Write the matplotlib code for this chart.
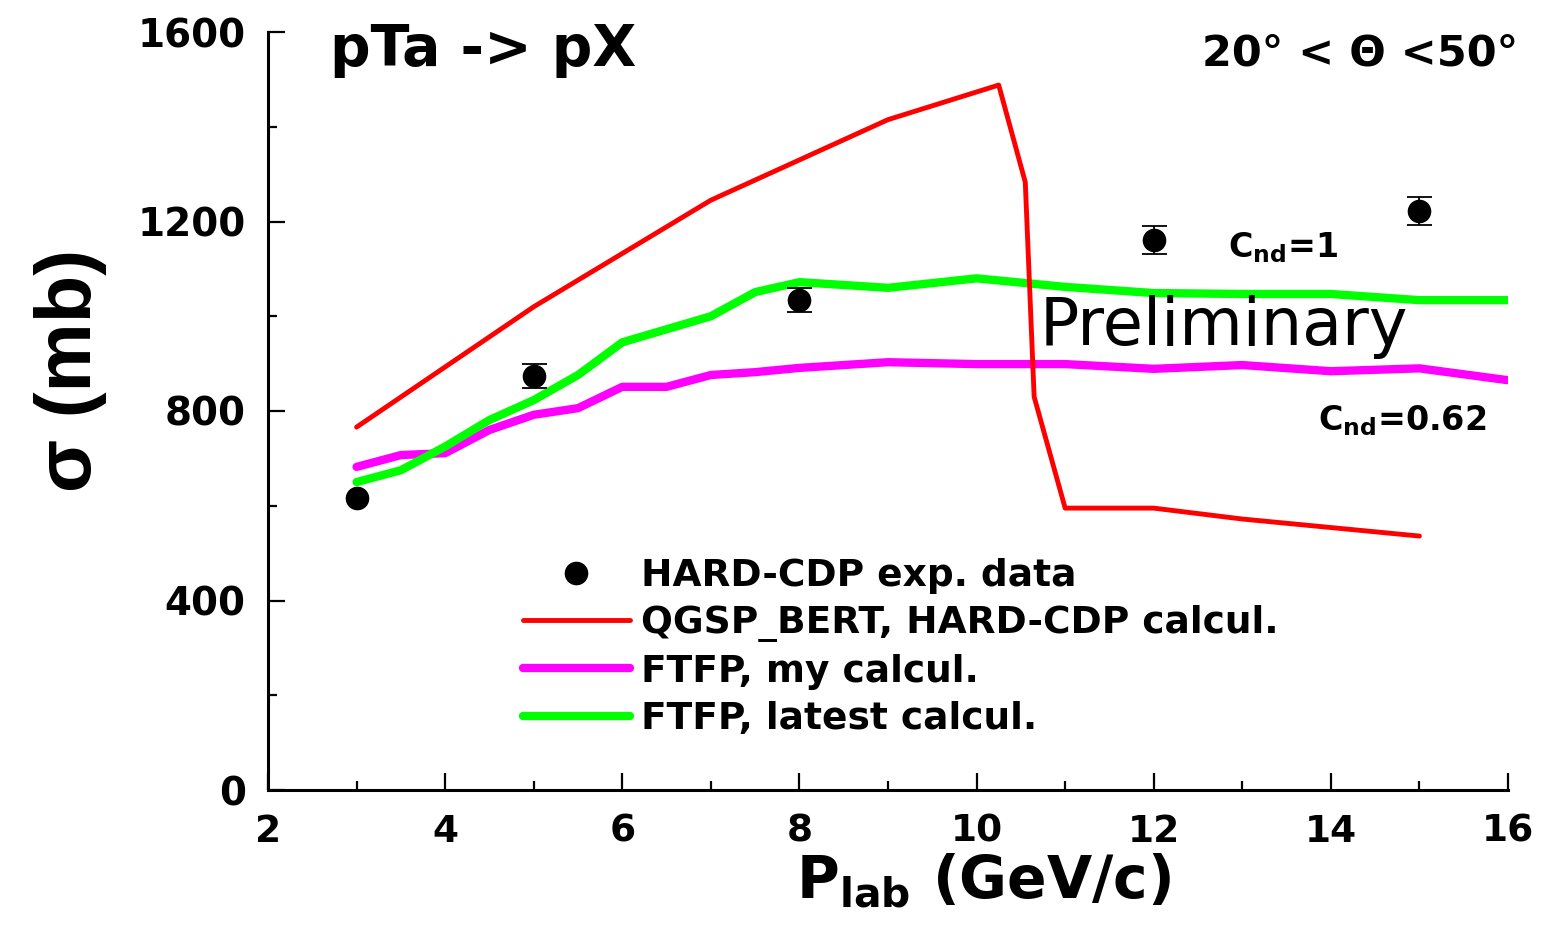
import matplotlib
matplotlib.use('Agg')
import matplotlib.pyplot as plt
from matplotlib.ticker import MultipleLocator

# ---------- data ----------
exp_p = [3, 5, 8, 12, 15]
exp_sigma = [616, 874, 1034, 1161, 1222]
exp_err = [0, 26, 25, 30, 30]   # first point: error bar hidden under the marker

qgsp_p = [3, 5, 7, 8, 9, 10.25, 10.55, 10.65, 11, 12, 13, 15]
qgsp_sigma = [766, 1020, 1245, 1330, 1415, 1488, 1283, 830, 595, 595, 572, 536]

ftfp_my_p = [3, 3.5, 4, 4.5, 5, 5.5, 6, 6.5, 7, 7.5, 8, 9, 10, 11, 12, 13, 14, 15, 16]
ftfp_my_sigma = [682, 707, 711, 760, 792, 806, 851, 851, 876, 882, 891, 903, 899, 899, 889, 897, 884, 890, 865]

ftfp_new_p = [3, 3.5, 4, 4.5, 5, 5.5, 6, 7, 7.5, 8, 9, 10, 11, 12, 13, 14, 15, 16]
ftfp_new_sigma = [650, 675, 725, 781, 823, 876, 945, 1000, 1051, 1072, 1060, 1080, 1062, 1049, 1047, 1047, 1034, 1034]

labels = ['HARD-CDP exp. data', 'QGSP_BERT, HARD-CDP calcul.',
          'FTFP, my calcul.', 'FTFP, latest calcul.']

plt.rcParams['font.family'] = ['DejaVu Sans']
plt.rcParams['font.weight'] = 'bold'
plt.rcParams['mathtext.fontset'] = 'dejavusans'

fig = plt.figure(figsize=(15.42, 9.32), dpi=100)
ax = fig.add_axes([268 / 1542, 142 / 932, 1240 / 1542, 758 / 932])

l_red, = ax.plot(qgsp_p, qgsp_sigma, color='#ff0000', lw=3.5, solid_capstyle='round', zorder=3)
l_mag, = ax.plot(ftfp_my_p, ftfp_my_sigma, color='#ff00ff', lw=6, solid_capstyle='round', zorder=2)
l_grn, = ax.plot(ftfp_new_p, ftfp_new_sigma, color='#00ff00', lw=6, solid_capstyle='round', zorder=2)
# only points with a visible error bar
ax.errorbar(exp_p[1:], exp_sigma[1:], yerr=exp_err[1:], fmt='none', ecolor='black',
            elinewidth=1.3, capsize=9, capthick=1.3, zorder=4)
l_dat, = ax.plot(exp_p, exp_sigma, 'o', color='black', ms=16, ls='none', zorder=5)

ax.set_xlim(2, 16)
ax.set_ylim(0, 1600)
ax.xaxis.set_major_locator(MultipleLocator(2))
ax.xaxis.set_minor_locator(MultipleLocator(1))
ax.yaxis.set_major_locator(MultipleLocator(400))
ax.yaxis.set_minor_locator(MultipleLocator(200))

for s in ['top', 'right']:
    ax.spines[s].set_visible(False)
for s in ['left', 'bottom']:
    ax.spines[s].set_linewidth(2.2)

ax.tick_params(which='major', direction='in', length=12, width=1.6)
ax.tick_params(which='minor', direction='in', length=6.5, width=1.6)
ax.tick_params(axis='x', labelsize=27, pad=17)
ax.tick_params(axis='y', labelsize=28, pad=16)
for t in ax.get_xticklabels() + ax.get_yticklabels():
    t.set_fontweight('bold')

ax.set_xlabel(r'$\mathbf{P_{lab}}$ (GeV/c)', fontsize=42, fontweight='bold')
ax.xaxis.set_label_coords(0.577, -0.08, transform=ax.transAxes)
ax.xaxis.label.set_va('top')
ax.set_ylabel('σ (mb)', fontsize=56, fontweight='bold', family=['Liberation Sans', 'DejaVu Sans'])
ax.yaxis.set_label_coords(-0.13, 0.554)

fig.text(330 / 1542, 1 - 66 / 932, 'pTa -> pX', fontsize=41, fontweight='bold', ha='left', va='baseline')
fig.text(1518 / 1542, 1 - 65 / 932, '20° < Θ <50°', fontsize=31, fontweight='bold', ha='right', va='baseline')
fig.text(1040 / 1542, 1 - 345 / 932, 'Preliminary', fontsize=47, fontweight='normal', ha='left', va='baseline')
fig.text(1228 / 1542, 1 - 257 / 932, r'$\mathbf{C_{nd}}$=1', fontsize=24, fontweight='bold', ha='left', va='baseline')
fig.text(1318 / 1542, 1 - 430 / 932, r'$\mathbf{C_{nd}}$=0.62', fontsize=24, fontweight='bold', ha='left', va='baseline')

leg = ax.legend([l_dat, l_red, l_mag, l_grn], labels, loc='upper left',
                bbox_to_anchor=(523 / 1542, 1 - 558 / 932), bbox_transform=fig.transFigure,
                frameon=False, fontsize=27, handlelength=2.85, handletextpad=0.3,
                labelspacing=0.3, borderpad=0, borderaxespad=0)
for t in leg.get_texts():
    t.set_fontweight('bold')

fig.savefig('out.png', dpi=100)
